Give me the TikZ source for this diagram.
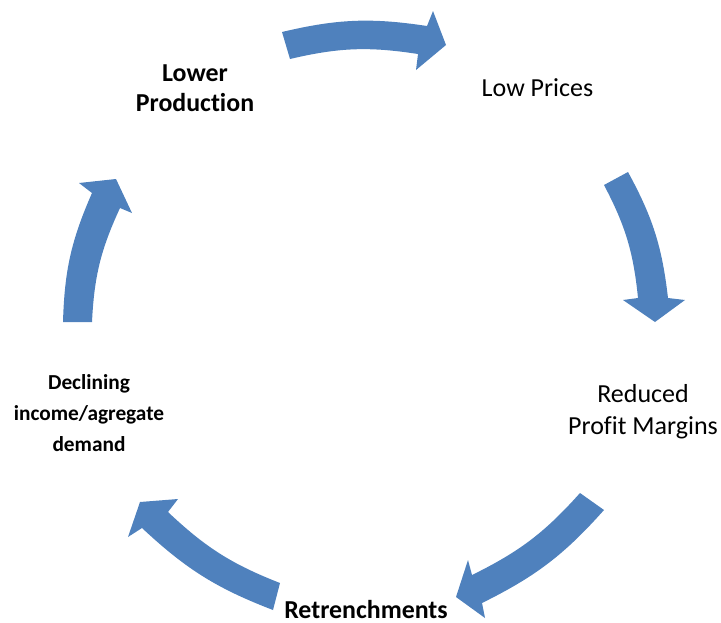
\documentclass[tikz,border=0pt]{standalone}
\usepackage{fontspec}
\setmainfont{Carlito}[Ligatures=NoCommon]
\definecolor{arrowblue}{RGB}{79,129,189}
\begin{document}
\begin{tikzpicture}[x=0.75pt,y=-0.75pt,
  cyc/.style={fill=arrowblue, draw=none},
  lbl/.style={inner sep=0pt, align=center, text=black, anchor=base},
  bigfont/.style={font=\fontsize{19.5}{24}\selectfont},
  bigbold/.style={font=\bfseries\fontsize{19.4}{22.5}\selectfont},
  smallbold/.style={font=\bfseries\fontsize{16}{23.25}\selectfont},
]
\useasboundingbox (0,0) rectangle (721,622);
% curved block arrows
\fill[cyc] (282,32) to[bend left=11] (427,26) -- (433,11) -- (446,45) -- (416,70) -- (418,54) to[bend right=11] (290,59) -- cycle;
\fill[cyc] (628,172) to[bend left=11] (668,298) -- (685,300) -- (655,322) -- (623,300) -- (638,298) to[bend right=11] (604,185) -- cycle;
\fill[cyc] (604,510) to[bend left=11] (482,603) -- (485,618) -- (456,597) -- (468,560) -- (472,575) to[bend right=11] (580,493) -- cycle;
\fill[cyc] (273,610) to[bend left=11] (142,528) -- (128,537) -- (140,502) -- (178,499) -- (168,512) to[bend right=11] (280,583) -- cycle;
\fill[cyc] (63,322) to[bend left=11] (92,193) -- (79,183) -- (116,179) -- (132,213) -- (120,208) to[bend right=11] (92,322) -- cycle;
% labels (base anchor = baseline of the last line)
\node[lbl, bigbold] (lowerprod) at (195,111) {Lower\\Production};
\node[lbl, bigfont] (lowprices) at (537.5,96) {Low Prices};
\node[lbl, bigfont] (reduced) at (643,434) {Reduced\\Profit Margins};
\node[lbl, bigbold, text depth=0pt] (retrench) at (366,618) {Retrenchments};
\node[lbl, smallbold] (declining) at (89,451) {Declining\\income/agregate\\demand};
\end{tikzpicture}
\end{document}
